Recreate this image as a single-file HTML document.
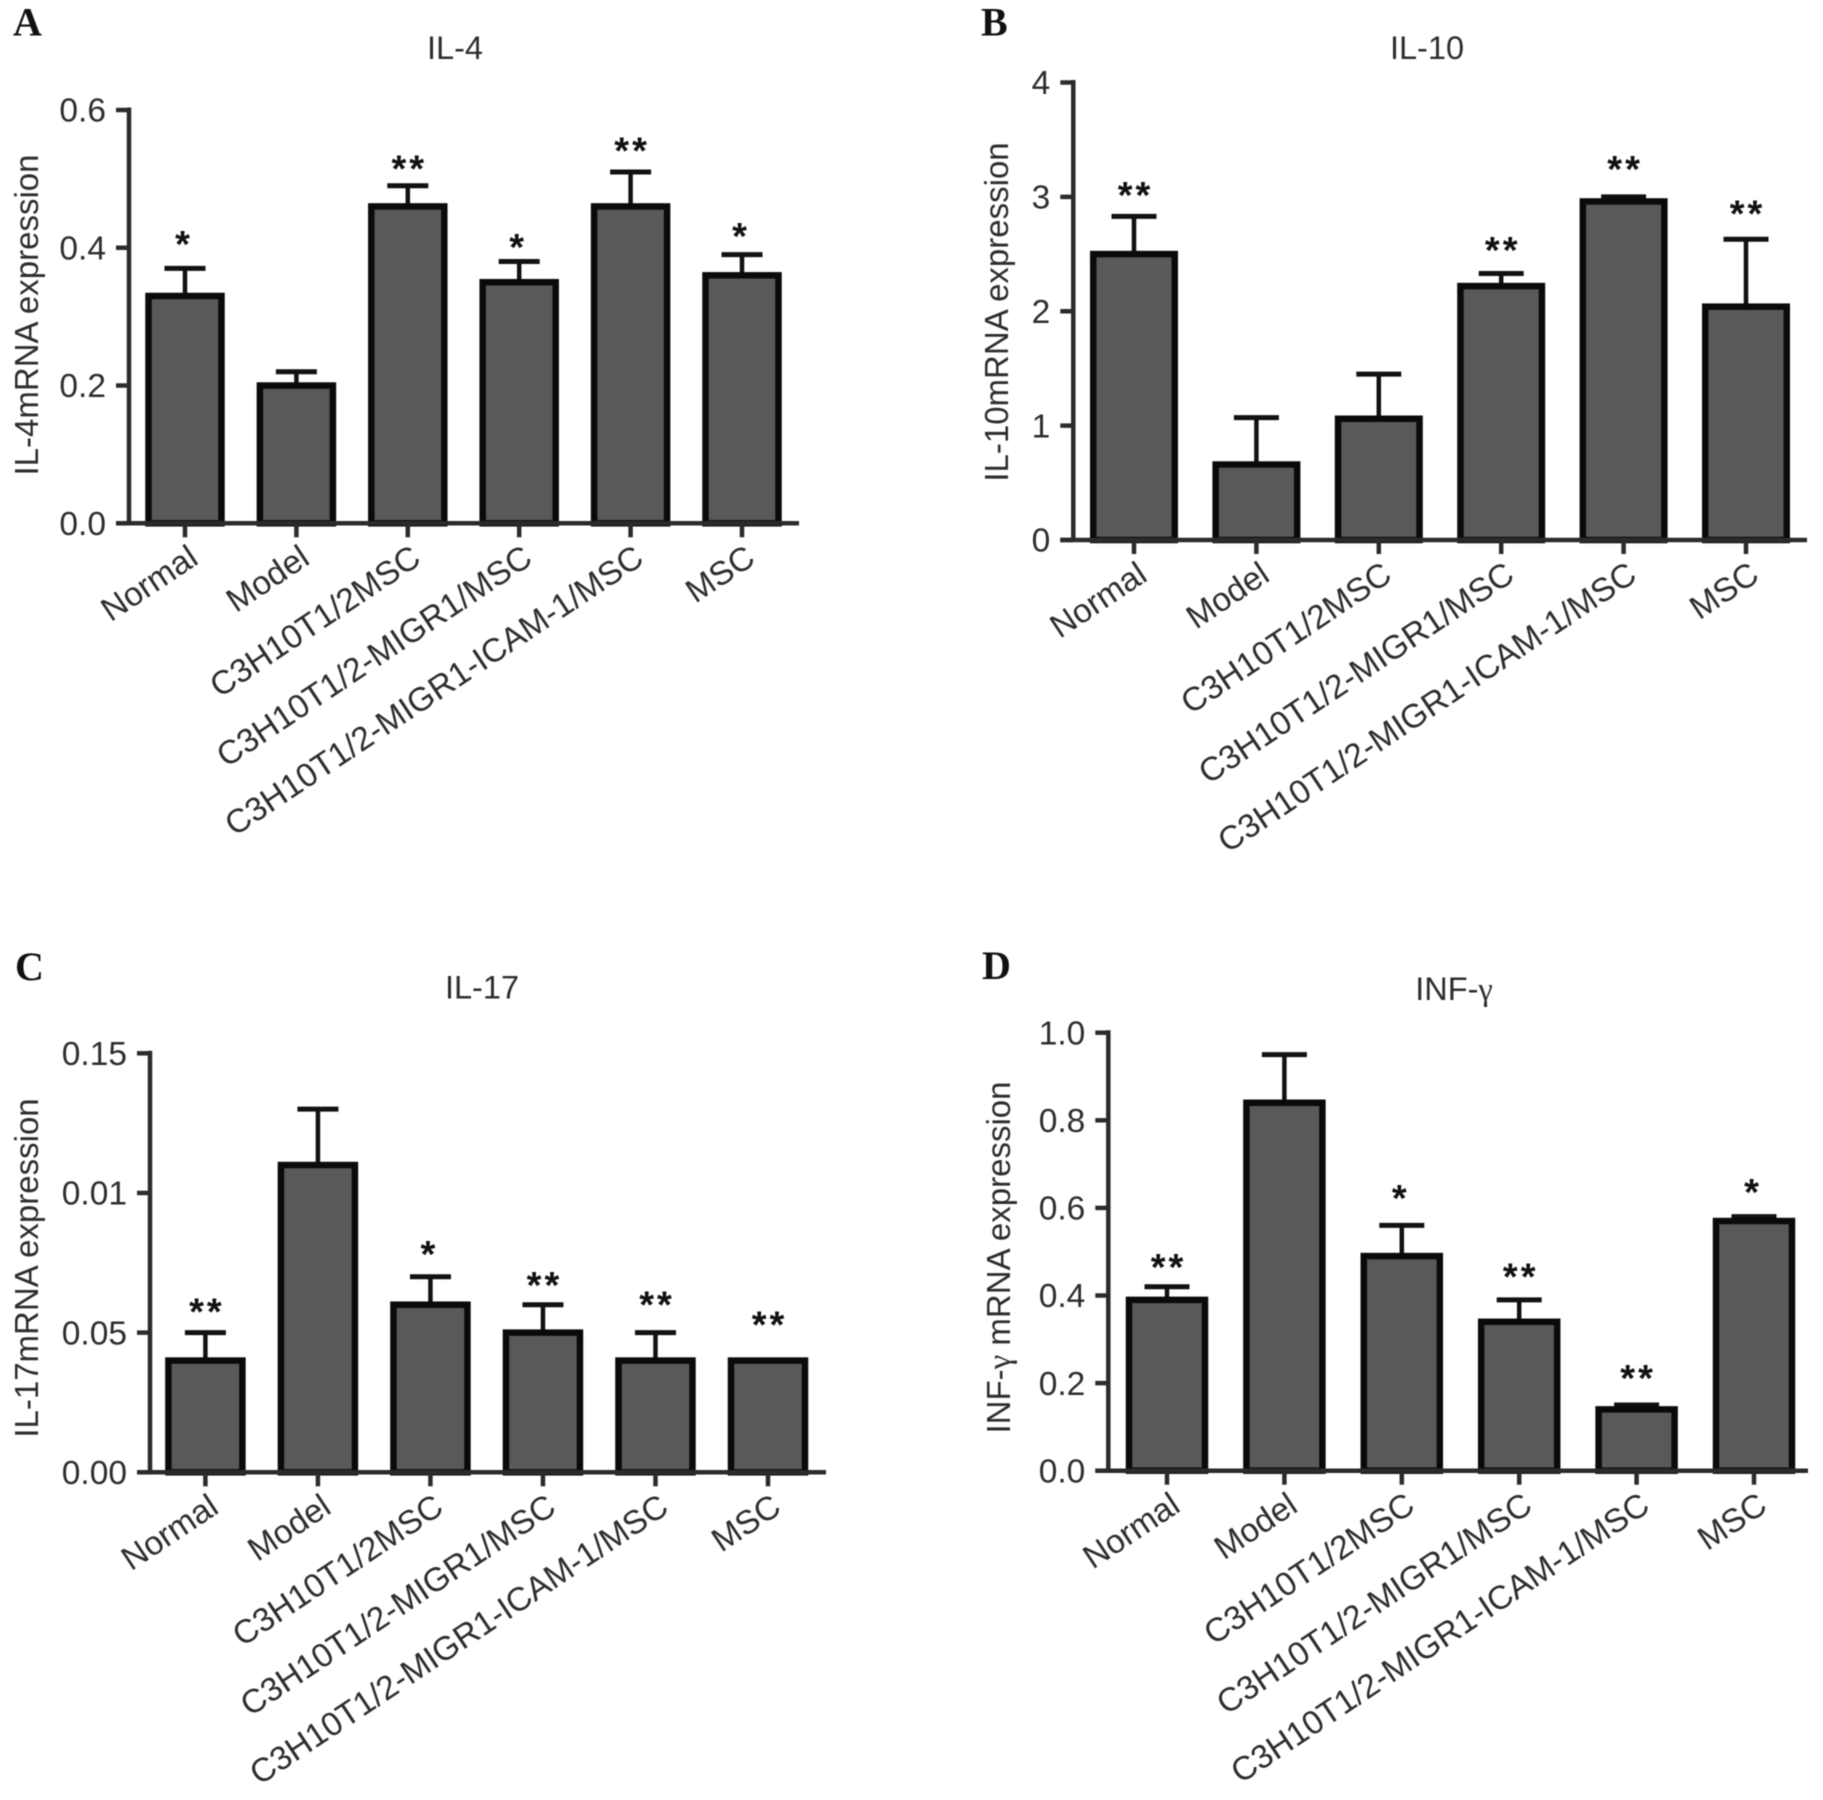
<!DOCTYPE html>
<html lang="en">
<head>
<meta charset="utf-8">
<title>Cytokine mRNA expression</title>
<style>
html,body{margin:0;padding:0;background:#fff;}
body{width:1823px;height:1800px;overflow:hidden;}
#figure{display:block;filter:blur(0.6px);}
text{font-family:"Liberation Sans",Arial,sans-serif;fill:#2d2d2d;}
.letter{font-family:"Liberation Serif",serif;font-weight:bold;font-size:40px;fill:#111;}
.star{font-weight:bold;font-size:38px;letter-spacing:3px;fill:#111;text-anchor:middle;}
</style>
</head>
<body>
<svg id="figure" xmlns="http://www.w3.org/2000/svg" width="1823" height="1800" viewBox="0 0 1823 1800"></svg>
<script>
// Shared categories
const categories = ["Normal", "Model", "C3H10T1/2MSC", "C3H10T1/2-MIGR1/MSC", "C3H10T1/2-MIGR1-ICAM-1/MSC", "MSC"];

// Panel A: IL-4
const valuesA = [0.33, 0.20, 0.46, 0.35, 0.46, 0.36];
const errorTopsA = [0.37, 0.22, 0.49, 0.38, 0.51, 0.39];
const sigA = ["*", "", "**", "*", "**", "*"];
const sigLevelA = [0.411, null, 0.521, 0.407, 0.547, 0.423];
const tickValuesA = [0, 0.2, 0.4, 0.6];
const tickLabelsA = ["0.0", "0.2", "0.4", "0.6"];

// Panel B: IL-10
const valuesB = [2.5, 0.66, 1.06, 2.22, 2.96, 2.04];
const errorTopsB = [2.83, 1.07, 1.45, 2.33, 3.0, 2.63];
const sigB = ["**", "", "", "**", "**", "**"];
const sigLevelB = [3.05, null, null, 2.57, 3.28, 2.89];
const tickValuesB = [0, 1, 2, 3, 4];
const tickLabelsB = ["0", "1", "2", "3", "4"];

// Panel C: IL-17 (the source figure prints 0.01 on the middle tick)
const valuesC = [0.04, 0.11, 0.06, 0.05, 0.04, 0.04];
const errorTopsC = [0.05, 0.13, 0.07, 0.06, 0.05, 0.04];
const sigC = ["**", "", "*", "**", "**", "**"];
const sigLevelC = [0.059, null, 0.0796, 0.0685, 0.0615, 0.0543];
const tickValuesC = [0, 0.05, 0.10, 0.15];
const tickLabelsC = ["0.00", "0.05", "0.01", "0.15"];

// Panel D: INF-gamma
const valuesD = [0.39, 0.84, 0.49, 0.34, 0.14, 0.57];
const errorTopsD = [0.42, 0.95, 0.56, 0.39, 0.15, 0.58];
const sigD = ["**", "", "*", "**", "**", "*"];
const sigLevelD = [0.474, null, 0.632, 0.452, 0.221, 0.646];
const tickValuesD = [0, 0.2, 0.4, 0.6, 0.8, 1.0];
const tickLabelsD = ["0.0", "0.2", "0.4", "0.6", "0.8", "1.0"];

const SVG_NS = "http://www.w3.org/2000/svg";
const svg = document.getElementById("figure");

function make(tag, attrs, parent, content) {
  const node = document.createElementNS(SVG_NS, tag);
  for (const k in attrs) node.setAttribute(k, attrs[k]);
  if (content !== undefined) node.textContent = content;
  parent.appendChild(node);
  return node;
}

function drawPanel(p) {
  const group = make("g", {}, svg);
  
  

  const vmax = p.tickValues[p.tickValues.length - 1];
  const yScale = v => p.y0 - (v / vmax) * (p.y0 - p.yTop);
  const xScale = i => p.xFirst + i * (p.xLast - p.xFirst) / (p.values.length - 1);

  const letter = make("text", {x: p.letterX, y: p.letterY, class: "letter"}, group, p.letter);
  
  

  const title = make("text", {x: p.titleX, y: p.titleY, "text-anchor": "middle", "font-size": 32.5}, group, p.title);
  
  
  if (p.gamma) {
    const g = make("tspan", {style: 'font-family:"Liberation Serif",serif'}, title, "\u03b3");
    
    
  }

  const yTitle = make("text", {transform: "translate(" + p.yTitleX + "," + p.yTitleY + ") rotate(-90)", "text-anchor": "middle", "font-size": 33}, group);
  
  
  if (p.gamma) {
    const a = make("tspan", {}, yTitle, "INF-");
    
    
    const b = make("tspan", {style: 'font-family:"Liberation Serif",serif'}, yTitle, "\u03b3");
    
    
    const c = make("tspan", {}, yTitle, " mRNA expression");
    
    
  } else {
    yTitle.textContent = p.yLabel;
  }

  // Y axis with ticks
  const yAxis = make("line", {x1: p.axisX, x2: p.axisX, y1: p.yTop - 2.5, y2: p.y0, stroke: "#2b2b2b", "stroke-width": 4.5}, group);
  
  
  p.tickValues.forEach((v, i) => {
    const y = yScale(v);
    const tick = make("line", {x1: p.axisX - 13, x2: p.axisX, y1: y, y2: y, stroke: "#2b2b2b", "stroke-width": 4.5}, group);
    
    
    const label = make("text", {x: p.axisX - 23, y: y + 11.7, "text-anchor": "end", "font-size": 33.5}, group, p.tickLabels[i]);
    
    
  });

  // Bars, error bars and significance marks
  p.values.forEach((v, i) => {
    const cx = xScale(i);
    const top = yScale(v);
    const errTop = yScale(p.errorTops[i]);

    const stem = make("line", {x1: cx, x2: cx, y1: errTop, y2: top, stroke: "#111", "stroke-width": 4.5}, group);
    
    
    const cap = make("line", {x1: cx - p.capW / 2, x2: cx + p.capW / 2, y1: errTop, y2: errTop, stroke: "#111", "stroke-width": 5}, group);
    
    

    const bar = make("rect", {x: cx - p.barW / 2, y: top, width: p.barW, height: p.y0 - top, fill: "#595959", stroke: "#0a0a0a", "stroke-width": 6.5}, group);
    
    

    if (p.sig[i]) {
      const star = make("text", {x: cx + (p.sig[i].length > 1 ? 1.5 : -1), y: yScale(p.sigLevel[i]) + 17, class: "star"}, group, p.sig[i]);
      
      
    }

    const xTick = make("line", {x1: cx, x2: cx, y1: p.y0, y2: p.y0 + 14, stroke: "#2b2b2b", "stroke-width": 4.5}, group);
    
    

    const catLabel = make("text", {transform: "translate(" + (cx + 15) + "," + (p.y0 + 39.5) + ") rotate(-33.7)", "text-anchor": "end", "font-size": 33.3}, group, categories[i]);
    
    
  });

  const xAxis = make("line", {x1: p.axisX - 13, x2: p.xRight, y1: p.y0, y2: p.y0, stroke: "#2b2b2b", "stroke-width": 4.5}, group);
  
  
}

drawPanel({id: "a", letter: "A", letterX: 13, letterY: 35.5, title: "IL-4", titleX: 455, titleY: 59,
  yLabel: "IL-4mRNA expression", yTitleX: 38, yTitleY: 315,
  axisX: 129, y0: 523.3, yTop: 110, xRight: 799, xFirst: 185, xLast: 742, barW: 73, capW: 41,
  values: valuesA, errorTops: errorTopsA, sig: sigA, sigLevel: sigLevelA, tickValues: tickValuesA, tickLabels: tickLabelsA});

drawPanel({id: "b", letter: "B", letterX: 981, letterY: 35.5, title: "IL-10", titleX: 1427, titleY: 59,
  yLabel: "IL-10mRNA expression", yTitleX: 1008, yTitleY: 312,
  axisX: 1073.3, y0: 540, yTop: 82.5, xRight: 1807, xFirst: 1134, xLast: 1746, barW: 81.5, capW: 45,
  values: valuesB, errorTops: errorTopsB, sig: sigB, sigLevel: sigLevelB, tickValues: tickValuesB, tickLabels: tickLabelsB});

drawPanel({id: "c", letter: "C", letterX: 15, letterY: 980, title: "IL-17", titleX: 482, titleY: 998.6,
  yLabel: "IL-17mRNA expression", yTitleX: 38, yTitleY: 1268,
  axisX: 150, y0: 1472.3, yTop: 1053.3, xRight: 826, xFirst: 205.4, xLast: 768, barW: 74, capW: 41,
  values: valuesC, errorTops: errorTopsC, sig: sigC, sigLevel: sigLevelC, tickValues: tickValuesC, tickLabels: tickLabelsC});

drawPanel({id: "d", letter: "D", letterX: 982, letterY: 979, title: "INF-", gamma: true, titleX: 1454, titleY: 1000,
  yLabel: "", yTitleX: 1010, yTitleY: 1257.5,
  axisX: 1108.3, y0: 1470.7, yTop: 1032.7, xRight: 1808, xFirst: 1167, xLast: 1754, barW: 76, capW: 45,
  values: valuesD, errorTops: errorTopsD, sig: sigD, sigLevel: sigLevelD, tickValues: tickValuesD, tickLabels: tickLabelsD});
</script>
</body>
</html>
